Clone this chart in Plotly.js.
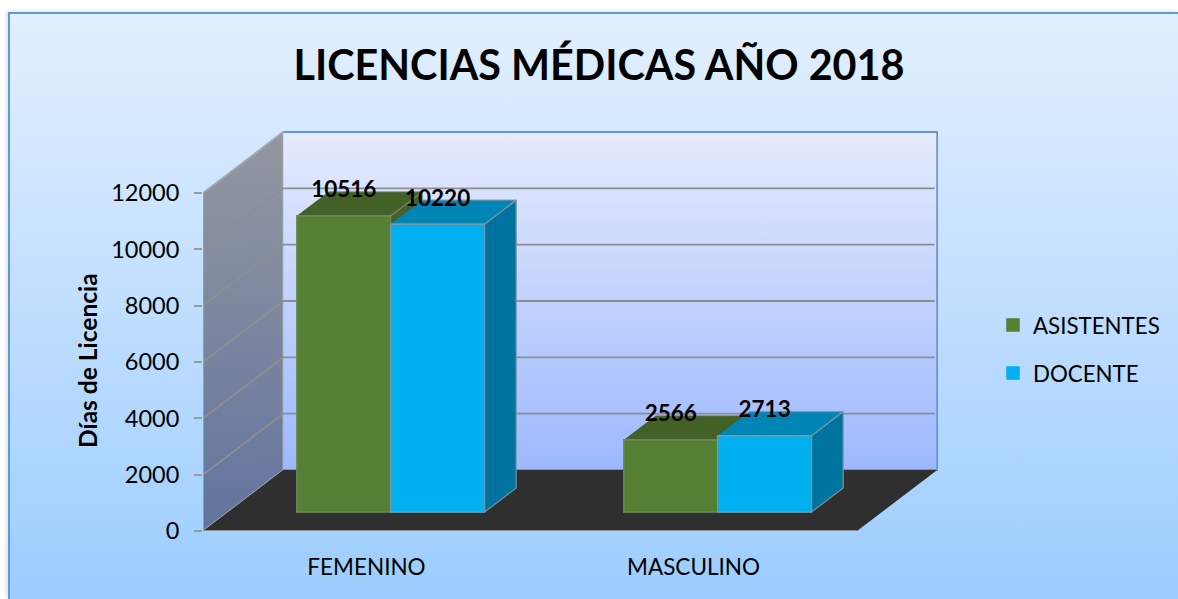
<!DOCTYPE html>
<html><head><meta charset="utf-8">
<script src="https://cdn.plot.ly/plotly-3.0.1.min.js"></script>
<style>
html,body{margin:0;padding:0;background:#fff;width:1178px;height:599px;overflow:hidden}
#panel{position:absolute;left:8px;top:12px;width:1170px;height:587px;box-sizing:border-box;border-left:2px solid #5b9bd5;border-top:2px solid #5b9bd5;background:linear-gradient(180deg,#e2f0ff 0%,#c4e0fe 45%,#9bcdfe 100%);box-shadow:-2px -1px 4px rgba(0,0,0,.12)}
#chart{position:absolute;left:0;top:0;width:1178px;height:599px}
</style></head><body>
<div id="panel"></div><div id="chart"></div>
<script>
const categories = ['FEMENINO', 'MASCULINO'];
const asistentes = [10516, 2566];
const docente = [10220, 2713];
const yTicks = [0, 2000, 4000, 6000, 8000, 10000, 12000];
const titleText = 'LICENCIAS MÉDICAS AÑO 2018';
const yTitle = 'Días de Licencia';

// Oblique projection of the 3D look, in axis units
const DX = 0.2454, DY = 2165, FRONT = 0.31, BACK = 0.705, W = 0.2868, SHIFT = 0.074;
const XMIN = -0.5, XMAX = 1.5, YTOP = 12000;
const PW = 735, PH = 400, XSCALE = 327;
const XR = [XMIN, XMIN + PW / XSCALE], YR = [0, PH / 0.02817];
const cidx = categories.map((_, i) => i);
const px = (x, d) => x + d * DX, py = (y, d) => y + d * DY;
const baseV = FRONT * DY;

function poly(pts, color, lineColor, lw, ax, extra) {
  return Object.assign({type:'scatter', mode: lw ? 'lines' : 'none', x: pts.map(p=>p[0]), y: pts.map(p=>p[1]),
    fill:'toself', fillcolor: color, line:{color: lineColor||color, width: lw||0}, showlegend:false, hoverinfo:'skip',
    xaxis:'x'+ax, yaxis:'y'+ax}, extra||{});
}
function line(xs, ys, color, w, ax) {
  return {type:'scatter', mode:'lines', x:xs, y:ys, line:{color:color,width:w}, showlegend:false, hoverinfo:'skip', xaxis:'x'+ax, yaxis:'y'+ax, connectgaps:false};
}

const traces = [];
// walls and floor
traces.push(poly([[XMIN,0],[px(XMIN,1),DY],[px(XMIN,1),YTOP+DY],[XMIN,YTOP]], '#808aa5', '#a5a9b0', 1.5, '', {
  fillgradient:{type:'vertical', colorscale:[[0,'#62749f'],[1,'#9397a0']]}}));
traces.push(poly([[px(XMIN,1),DY],[px(XMAX,1),DY],[px(XMAX,1),YTOP+DY],[px(XMIN,1),YTOP+DY]], '#c0ccff', '#6c92d6', 2, '', {
  fillgradient:{type:'vertical', colorscale:[[0,'#9db8ff'],[1,'#e6ebfd']]}}));
// gridlines on both walls
const gx = [], gy = [];
yTicks.forEach(v => { if (v>0 && v<YTOP) { gx.push(XMIN, px(XMIN,1), px(XMAX,1)-0.008, null); gy.push(v, v+DY, v+DY, null);} });
traces.push(line(gx, gy, '#8e8e92', 1.8, ''));
traces.push(line([XMIN,px(XMIN,1)], [YTOP,YTOP+DY], '#a5a9b0', 1.5, ''));
// floor
traces.push(poly([[XMIN,0],[XMAX,0],[px(XMAX,1),DY],[px(XMIN,1),DY]], '#2f2f2f', null, 0, ''));
traces.push(line([XMIN,XMAX],[0,0],'#8f8f8f',1.8,''));
traces.push(line([XMIN,XMIN],[0,YTOP],'#a0a0a0',1.8,''));

function series(name, vals, colF, colT, colS, edge, sign, ax) {
  const cx = cidx.map(c => c + SHIFT + sign*W/2);
  traces.push({type:'bar', name:name, x:cx, y:vals, base:cidx.map(()=>baseV), width:W,
    marker:{color:colF, line:{color:colF, width:1.5}}, xaxis:'x'+ax, yaxis:'y'+ax, legendgroup:name,
    hovertemplate:name+': %{y}<extra></extra>'});
  cidx.forEach((c,i) => {
    const l = cx[i]-W/2, r = cx[i]+W/2, b = baseV, t = vals[i]+baseV, dd = BACK-FRONT;
    traces.push(poly([[r,t],[r+dd*DX,t+dd*DY],[r+dd*DX,b+dd*DY],[r,b]], colS, edge, 1.3, ax));
    traces.push(poly([[l,t],[r,t],[r+dd*DX,t+dd*DY],[l+dd*DX,t+dd*DY]], colT, edge, 1.3, ax));
    traces.push(line([l,l,r,r,l],[t,b,b,t,t], edge, 1.5, ax));
  });
}
series('ASISTENTES', asistentes, '#558033', '#436127', '#436127', 'rgba(130,140,125,0.55)', -1, '2');
series('DOCENTE', docente, '#00b0f0', '#0085b5', '#00739e', 'rgba(125,150,160,0.9)', 1, '3');

// data labels
const lx = [], ly = [], lt = [];
[[asistentes,-1],[docente,1]].forEach(([vals,s]) => vals.forEach((v,i) => {
  lx.push(i + SHIFT + s*W/2); ly.push(v + baseV + (BACK-FRONT)*DY); lt.push(String(v));
}));
traces.push({type:'scatter', mode:'text', x:lx, y:ly, text:lt, textposition:'middle center',
  textfont:{family:'Lato, sans-serif', size:22.5, color:'#000', weight:700}, showlegend:false, hoverinfo:'skip', xaxis:'x3', yaxis:'y3', cliponaxis:false});

const hidden = {visible:false, fixedrange:true};
const layout = {
  width:1178, height:599, margin:{l:203, r:240, t:131, b:68, pad:0},
  paper_bgcolor:'rgba(0,0,0,0)', plot_bgcolor:'rgba(0,0,0,0)',
  font:{family:'Lato, sans-serif', color:'#000'},
  title:{text:titleText, x:599/1178, xanchor:'center', y:1-66/599, yanchor:'middle', font:{family:'Lato, sans-serif', size:41.3, weight:700, color:'#000'}},
  barmode:'overlay',
  xaxis:{range:XR, tickmode:'array', tickvals:cidx, ticktext:categories, showgrid:false, zeroline:false, showline:false,
    ticks:'', tickfont:{size:22.5}, ticklabelstandoff:20, fixedrange:true},
  yaxis:{range:YR, tickmode:'array', tickvals:yTicks, ticktext:yTicks.map(String), showgrid:false, zeroline:false, showline:false,
    ticks:'outside', ticklen:8, tickwidth:1.5, tickcolor:'#9a9a9a', tickfont:{size:23.5}, ticklabelstandoff:10, fixedrange:true},
  xaxis2:Object.assign({overlaying:'x', range:XR}, hidden), yaxis2:Object.assign({overlaying:'y', range:YR}, hidden),
  xaxis3:Object.assign({overlaying:'x', range:XR}, hidden), yaxis3:Object.assign({overlaying:'y', range:YR}, hidden),
  legend:{x:(993-203)/PW, xanchor:'left', y:1-(304-131)/PH, yanchor:'top', bgcolor:'rgba(0,0,0,0)',
    font:{size:22.3}, traceorder:'grouped', tracegroupgap:16, itemclick:false, itemdoubleclick:false},
  annotations:[{text:yTitle, xref:'paper', yref:'paper', x:(87-203)/PW, y:(531-361)/PH, textangle:-90, showarrow:false,
    xanchor:'center', yanchor:'middle', font:{size:24.5, weight:700}}]
};
Plotly.newPlot('chart', traces, layout, {displayModeBar:false, responsive:false});
</script></body></html>
